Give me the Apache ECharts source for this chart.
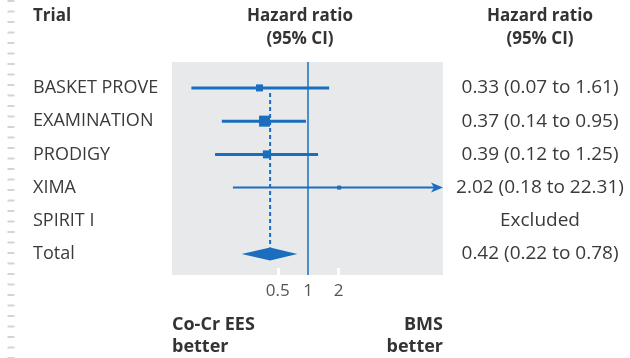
<!DOCTYPE html>
<html>
<head>
<meta charset="utf-8">
<script src="https://cdn.jsdelivr.net/npm/echarts@6/dist/echarts.min.js"></script>
<style>
  html, body { margin: 0; padding: 0; background: #fff; }
  #chart { width: 630px; height: 358px; }
</style>
</head>
<body>
<div id="chart"></div>
<script>
// data
const trials = ["BASKET PROVE", "EXAMINATION", "PRODIGY", "XIMA", "SPIRIT I", "Total"];
const hr = [0.33, 0.37, 0.39, 2.02, null];
const lower = [0.07, 0.14, 0.12, 0.18, null];
const upper = [1.61, 0.95, 1.25, 22.31, null];
const boxSize = [7, 11, 8, 4, null]; // study weight marker
const pooled = [0.42, 0.22, 0.78]; // est, lo, hi
const xTicks = [0.5, 1, 2];

const blue = "#1a6ebd";
const font = "'Open Sans', 'Noto Sans', sans-serif";
const xMin = 0.045, xMax = 21.5;

const ciText = trials.map((t, i) => {
  if (i === trials.length - 1) {
    return pooled[0].toFixed(2) + " (" + pooled[1].toFixed(2) + " to " + pooled[2].toFixed(2) + ")";
  }
  if (hr[i] == null) return "Excluded";
  return hr[i].toFixed(2) + " (" + lower[i].toFixed(2) + " to " + upper[i].toFixed(2) + ")";
});

const studyData = [];
hr.forEach((v, i) => {
  if (v != null) studyData.push([lower[i], upper[i], v, i, boxSize[i]]);
});
const totalRow = trials.length - 1;

const chart = echarts.init(document.getElementById("chart"));

function renderStudy(params, api) {
  const lo = api.value(0), hi = api.value(1), est = api.value(2), row = api.value(3), size = api.value(4);
  const cs = params.coordSys;
  const p1 = api.coord([lo, row]);
  const pe = api.coord([est, row]);
  const clipped = hi > xMax;
  const p2 = clipped ? [cs.x + cs.width, p1[1]] : api.coord([hi, row]);
  const lw = size < 5 ? 2 : 3;
  const children = [
    {
      type: "line",
      shape: { x1: p1[0], y1: p1[1], x2: clipped ? p2[0] - 6 : p2[0], y2: p2[1] },
      style: { stroke: blue, lineWidth: lw }
    },
    {
      type: "rect",
      shape: { x: pe[0] - size / 2, y: pe[1] - size / 2, width: size, height: size },
      style: { fill: blue }
    }
  ];
  if (clipped) {
    children.push({
      type: "polygon",
      shape: { points: [[p2[0], p2[1]], [p2[0] - 12, p2[1] - 5], [p2[0] - 9, p2[1]], [p2[0] - 12, p2[1] + 5]] },
      style: { fill: blue }
    });
  }
  return { type: "group", children: children };
}

function renderTotal(params, api) {
  const row = api.value(3);
  const l = api.coord([api.value(1), row]);
  const r = api.coord([api.value(2), row]);
  const c = api.coord([api.value(0), row]);
  const top = api.coord([api.value(0), 0]);
  const h = 6.5;
  return {
    type: "group",
    children: [
      {
        type: "line",
        shape: { x1: c[0], y1: top[1] + 5, x2: c[0], y2: c[1] - h },
        style: { stroke: blue, lineWidth: 2, lineDash: [4, 3] }
      },
      {
        type: "polygon",
        shape: { points: [[l[0], c[1]], [c[0], c[1] - h], [r[0], c[1]], [c[0], c[1] + h]] },
        style: { fill: blue }
      }
    ]
  };
}

const headStyle = { fontFamily: font, fontWeight: "bold", fontSize: 17, fill: "#333" };
const footStyle = { fontFamily: font, fontWeight: "bold", fontSize: 18, fill: "#333" };

chart.setOption({
  animation: false,
  grid: {
    left: 172, right: 187, top: 62, bottom: 83,
    show: true, backgroundColor: "#e8e9eb", borderWidth: 0
  },
  xAxis: {
    type: "log",
    logBase: 2,
    min: xMin,
    max: xMax,
    splitLine: { show: false },
    axisLine: { show: false, onZero: false },
    axisTick: {
      show: true, inside: true, length: 7,
      customValues: [0.5, 2],
      lineStyle: { color: "#ffffff", width: 3 }
    },
    axisLabel: {
      customValues: xTicks,
      formatter: (v) => String(v),
      fontFamily: font, fontSize: 17, color: "#555", margin: 8
    }
  },
  yAxis: [
    {
      type: "value",
      inverse: true,
      min: -0.78, max: 5.63,
      splitLine: { show: false },
      axisLine: { show: false },
      axisTick: { show: false },
      axisLabel: {
        customValues: trials.map((t, i) => i),
        formatter: (v) => trials[v],
        align: "left", margin: 139,
        fontFamily: font, fontSize: 18, color: "#3a3a3a"
      }
    },
    {
      type: "value",
      position: "right",
      inverse: true,
      min: -0.78, max: 5.63,
      splitLine: { show: false },
      axisLine: { show: false },
      axisTick: { show: false },
      axisLabel: {
        customValues: trials.map((t, i) => i),
        formatter: (v) => ciText[v],
        align: "center", margin: 97,
        fontFamily: font, fontSize: 19, color: "#3a3a3a"
      }
    }
  ],
  series: [
    {
      type: "custom",
      renderItem: renderStudy,
      encode: { x: [0, 1, 2], y: 3 },
      data: studyData,
      z: 3,
      markLine: {
        silent: true,
        symbol: "none",
        label: { show: false },
        lineStyle: { color: blue, width: 1.5, type: "solid" },
        data: [{ xAxis: 1 }]
      }
    },
    {
      type: "custom",
      renderItem: renderTotal,
      encode: { x: [0, 1, 2], y: 3 },
      data: [[pooled[0], pooled[1], pooled[2], totalRow]],
      z: 3
    }
  ],
  graphic: [
    {
      type: "line",
      shape: { x1: 11, y1: 0, x2: 11, y2: 358 },
      style: { stroke: "#d4d4d4", lineWidth: 7, lineDash: [2, 8.5] }
    },
    { type: "text", x: 33, y: 16, style: Object.assign({ text: "Trial", align: "left", verticalAlign: "middle" }, headStyle) },
    { type: "text", x: 300, y: 16, style: Object.assign({ text: "Hazard ratio", align: "center", verticalAlign: "middle" }, headStyle) },
    { type: "text", x: 300, y: 39, style: Object.assign({ text: "(95% CI)", align: "center", verticalAlign: "middle" }, headStyle) },
    { type: "text", x: 540, y: 16, style: Object.assign({ text: "Hazard ratio", align: "center", verticalAlign: "middle" }, headStyle) },
    { type: "text", x: 540, y: 39, style: Object.assign({ text: "(95% CI)", align: "center", verticalAlign: "middle" }, headStyle) },
    { type: "text", x: 172, y: 325, style: Object.assign({ text: "Co-Cr EES", align: "left", verticalAlign: "middle" }, footStyle) },
    { type: "text", x: 172, y: 347, style: Object.assign({ text: "better", align: "left", verticalAlign: "middle" }, footStyle) },
    { type: "text", x: 443, y: 325, style: Object.assign({ text: "BMS", align: "right", verticalAlign: "middle" }, footStyle) },
    { type: "text", x: 443, y: 347, style: Object.assign({ text: "better", align: "right", verticalAlign: "middle" }, footStyle) }
  ]
});

window.addEventListener("resize", function () {
  chart.resize();
});
</script>
</body>
</html>
